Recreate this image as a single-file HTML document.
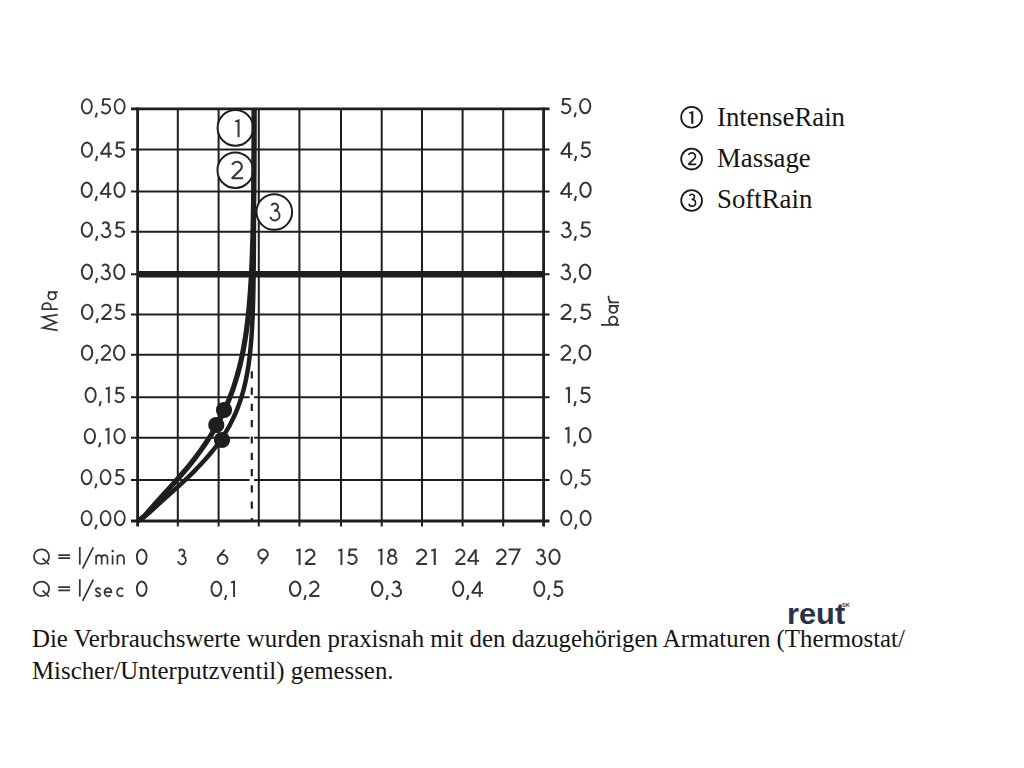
<!DOCTYPE html><html><head><meta charset="utf-8"><style>html,body{margin:0;padding:0;background:#fff;width:1024px;height:768px;overflow:hidden}svg{position:absolute;left:0;top:0}</style></head><body>
<svg width="1024" height="768" viewBox="0 0 1024 768">
<line x1="177.8" y1="108.9" x2="177.8" y2="526.4" stroke="#1e1e21" stroke-width="2"/><line x1="218.6" y1="108.9" x2="218.6" y2="526.4" stroke="#1e1e21" stroke-width="2"/><line x1="258.8" y1="108.9" x2="258.8" y2="526.4" stroke="#1e1e21" stroke-width="2"/><line x1="299.4" y1="108.9" x2="299.4" y2="526.4" stroke="#1e1e21" stroke-width="2"/><line x1="341.0" y1="108.9" x2="341.0" y2="526.4" stroke="#1e1e21" stroke-width="2"/><line x1="381.7" y1="108.9" x2="381.7" y2="526.4" stroke="#1e1e21" stroke-width="2"/><line x1="422.0" y1="108.9" x2="422.0" y2="526.4" stroke="#1e1e21" stroke-width="2"/><line x1="462.6" y1="108.9" x2="462.6" y2="526.4" stroke="#1e1e21" stroke-width="2"/><line x1="503.2" y1="108.9" x2="503.2" y2="526.4" stroke="#1e1e21" stroke-width="2"/><line x1="131" y1="149.6" x2="549.5" y2="149.6" stroke="#1e1e21" stroke-width="2"/><line x1="131" y1="191.4" x2="549.5" y2="191.4" stroke="#1e1e21" stroke-width="2"/><line x1="131" y1="231.8" x2="549.5" y2="231.8" stroke="#1e1e21" stroke-width="2"/><line x1="131" y1="274.3" x2="549.5" y2="274.3" stroke="#1e1e21" stroke-width="2"/><line x1="131" y1="314.4" x2="549.5" y2="314.4" stroke="#1e1e21" stroke-width="2"/><line x1="131" y1="354.8" x2="549.5" y2="354.8" stroke="#1e1e21" stroke-width="2"/><line x1="131" y1="397.3" x2="549.5" y2="397.3" stroke="#1e1e21" stroke-width="2"/><line x1="131" y1="437.8" x2="549.5" y2="437.8" stroke="#1e1e21" stroke-width="2"/><line x1="131" y1="479.9" x2="549.5" y2="479.9" stroke="#1e1e21" stroke-width="2"/><line x1="137.6" y1="274.3" x2="543.6" y2="274.3" stroke="#1e1e21" stroke-width="6.6"/>
<line x1="137.6" y1="107.60000000000001" x2="137.6" y2="526.4" stroke="#1e1e21" stroke-width="2.8"/>
<line x1="543.6" y1="107.60000000000001" x2="543.6" y2="526.4" stroke="#1e1e21" stroke-width="2.8"/>
<line x1="131" y1="108.9" x2="549.5" y2="108.9" stroke="#1e1e21" stroke-width="2.7"/>
<line x1="131" y1="520.9" x2="549.5" y2="520.9" stroke="#1e1e21" stroke-width="3"/>
<line x1="251.8" y1="373" x2="251.8" y2="517.5" stroke="#fff" stroke-width="4.5"/>
<line x1="251.8" y1="371.2" x2="251.8" y2="521" stroke="#1e1e21" stroke-width="2.2" stroke-dasharray="7.2 9.1"/>
<circle cx="235.4" cy="127.9" r="17.8" fill="#fff" stroke="#1e1e21" stroke-width="2"/>
<g transform="translate(232.00,119.40) scale(1.1020,1.0920)" fill="none" stroke="#363638" stroke-width="1.831" stroke-linecap="butt" stroke-linejoin="miter" stroke-miterlimit="2"><path transform="translate(2.00,0)" d="M0.95,2.0 L3.95,0.95 V16.3"/></g>
<circle cx="235.3" cy="170.2" r="17.8" fill="#fff" stroke="#1e1e21" stroke-width="2"/>
<g transform="translate(229.84,160.70) scale(1.1961,1.1472)" fill="none" stroke="#363638" stroke-width="1.743" stroke-linecap="butt" stroke-linejoin="miter" stroke-miterlimit="2"><path transform="translate(0.80,0)" d="M1.20,3.68 A4.15,4.15 0 1 1 8.37,7.65 L0.95,15.35 H10.2"/></g>
<circle cx="274.3" cy="212" r="17.8" fill="#fff" stroke="#1e1e21" stroke-width="2"/>
<g transform="translate(267.90,202.40) scale(1.0962,1.1411)" fill="none" stroke="#363638" stroke-width="1.753" stroke-linecap="butt" stroke-linejoin="miter" stroke-miterlimit="2"><path transform="translate(1.00,0)" d="M2.15,2.77 A3.15,3.15 0 1 1 4.73,7.24 A4.30,4.30 0 1 1 1.16,12.66"/></g>
<path d="M137.80,520.80 L139.68,519.80 L141.34,518.80 L142.85,517.80 L144.24,516.80 L145.53,515.80 L146.75,514.80 L147.93,513.80 L149.07,512.80 L150.18,511.80 L151.28,510.80 L152.37,509.80 L153.45,508.80 L154.54,507.80 L155.62,506.80 L156.71,505.80 L157.79,504.80 L158.89,503.80 L159.98,502.80 L161.09,501.80 L162.19,500.80 L163.30,499.80 L164.41,498.80 L165.52,497.80 L166.64,496.80 L167.75,495.80 L168.87,494.80 L169.99,493.80 L171.10,492.80 L172.22,491.80 L173.33,490.80 L174.44,489.80 L175.55,488.80 L176.65,487.80 L177.75,486.80 L178.85,485.80 L179.94,484.80 L181.03,483.80 L182.11,482.80 L183.19,481.80 L184.26,480.80 L185.32,479.80 L186.38,478.80 L187.43,477.80 L188.47,476.80 L189.51,475.80 L190.54,474.80 L191.56,473.80 L192.58,472.80 L193.58,471.80 L194.58,470.80 L195.57,469.80 L196.55,468.80 L197.52,467.80 L198.48,466.80 L199.44,465.80 L200.38,464.80 L201.32,463.80 L202.24,462.80 L203.16,461.80 L204.06,460.80 L205.85,458.80 L207.59,456.80 L209.30,454.80 L210.96,452.80 L212.58,450.80 L214.16,448.80 L215.70,446.80 L217.20,444.80 L218.66,442.80 L220.07,440.80 L221.44,438.80 L222.77,436.80 L224.07,434.80 L225.31,432.80 L226.52,430.80 L227.69,428.80 L228.82,426.80 L229.92,424.80 L230.97,422.80 L231.98,420.80 L232.96,418.80 L233.91,416.80 L234.82,414.80 L235.69,412.80 L236.53,410.80 L237.34,408.80 L238.11,406.80 L238.86,404.80 L239.57,402.80 L240.26,400.80 L240.91,398.80 L241.54,396.80 L242.14,394.80 L242.72,392.80 L243.27,390.80 L243.80,388.80 L244.31,386.80 L244.79,384.80 L245.25,382.80 L245.69,380.80 L246.11,378.80 L246.51,376.80 L246.89,374.80 L247.25,372.80 L247.60,370.80 L247.93,368.80 L248.25,366.80 L248.55,364.80 L248.83,362.80 L249.10,360.80 L249.36,358.80 L249.61,356.80 L249.84,354.80 L250.06,352.80 L250.27,350.80 L250.47,348.80 L250.66,346.80 L250.85,344.80 L251.02,342.80 L251.18,340.80 L251.33,338.80 L251.48,336.80 L251.62,334.80 L251.75,332.80 L251.88,330.80 L252.00,328.80 L252.11,326.80 L252.22,324.80 L252.32,322.80 L252.41,320.80 L252.50,318.80 L252.59,316.80 L252.67,314.80 L252.75,312.80 L252.82,310.80 L252.89,308.80 L252.95,306.80 L253.01,304.80 L253.07,302.80 L253.13,300.80 L253.32,292.80 L253.47,284.80 L253.59,276.80 L253.69,268.80 L253.77,260.80 L253.83,252.80 L253.88,244.80 L253.91,236.80 L253.94,228.80 L253.97,220.80 L253.99,212.80 L254.00,204.80 L254.01,196.80 L254.02,188.80 L254.03,180.80 L254.03,172.80 L254.04,164.80 L254.04,156.80 L254.04,148.80 L254.04,140.80 L254.04,132.80 L254.05,124.80 L254.05,116.80 L254.05,108.90" fill="none" stroke="#1e1e21" stroke-width="4.5" stroke-linecap="butt" stroke-linejoin="round"/>
<path d="M137.80,520.80 L139.46,519.80 L140.92,518.80 L142.22,517.80 L143.39,516.80 L144.47,515.80 L145.49,514.80 L146.45,513.80 L147.38,512.80 L148.28,511.80 L149.17,510.80 L150.04,509.80 L150.92,508.80 L151.79,507.80 L152.66,506.80 L153.53,505.80 L154.41,504.80 L155.29,503.80 L156.18,502.80 L157.07,501.80 L157.97,500.80 L158.87,499.80 L159.77,498.80 L160.68,497.80 L161.58,496.80 L162.50,495.80 L163.41,494.80 L164.32,493.80 L165.23,492.80 L166.15,491.80 L167.06,490.80 L167.97,489.80 L168.89,488.80 L169.79,487.80 L170.70,486.80 L171.61,485.80 L172.51,484.80 L173.41,483.80 L174.31,482.80 L175.20,481.80 L176.09,480.80 L176.98,479.80 L177.86,478.80 L178.73,477.80 L179.61,476.80 L180.48,475.80 L181.34,474.80 L182.20,473.80 L183.05,472.80 L183.90,471.80 L184.75,470.80 L185.59,469.80 L186.42,468.80 L187.25,467.80 L188.07,466.80 L188.89,465.80 L189.70,464.80 L190.51,463.80 L191.31,462.80 L192.10,461.80 L192.89,460.80 L194.45,458.80 L195.98,456.80 L197.49,454.80 L198.97,452.80 L200.43,450.80 L201.86,448.80 L203.27,446.80 L204.65,444.80 L206.00,442.80 L207.33,440.80 L208.63,438.80 L209.91,436.80 L211.16,434.80 L212.38,432.80 L213.58,430.80 L214.75,428.80 L215.89,426.80 L217.01,424.80 L218.10,422.80 L219.17,420.80 L220.22,418.80 L221.23,416.80 L222.23,414.80 L223.20,412.80 L224.14,410.80 L225.06,408.80 L225.96,406.80 L226.83,404.80 L227.68,402.80 L228.51,400.80 L229.32,398.80 L230.10,396.80 L230.87,394.80 L231.61,392.80 L232.33,390.80 L233.04,388.80 L233.72,386.80 L234.38,384.80 L235.02,382.80 L235.65,380.80 L236.26,378.80 L236.85,376.80 L237.42,374.80 L237.97,372.80 L238.51,370.80 L239.03,368.80 L239.54,366.80 L240.03,364.80 L240.51,362.80 L240.97,360.80 L241.42,358.80 L241.85,356.80 L242.27,354.80 L242.68,352.80 L243.07,350.80 L243.45,348.80 L243.82,346.80 L244.18,344.80 L244.52,342.80 L244.86,340.80 L245.18,338.80 L245.50,336.80 L245.80,334.80 L246.09,332.80 L246.38,330.80 L246.65,328.80 L246.92,326.80 L247.17,324.80 L247.42,322.80 L247.66,320.80 L247.89,318.80 L248.12,316.80 L248.33,314.80 L248.54,312.80 L248.74,310.80 L248.94,308.80 L249.13,306.80 L249.31,304.80 L249.49,302.80 L249.66,300.80 L250.28,292.80 L250.82,284.80 L251.29,276.80 L251.70,268.80 L252.06,260.80 L252.36,252.80 L252.63,244.80 L252.86,236.80 L253.06,228.80 L253.23,220.80 L253.38,212.80 L253.50,204.80 L253.61,196.80 L253.71,188.80 L253.79,180.80 L253.86,172.80 L253.92,164.80 L253.98,156.80 L254.02,148.80 L254.06,140.80 L254.09,132.80 L254.12,124.80 L254.15,116.80 L254.17,108.90" fill="none" stroke="#1e1e21" stroke-width="5.2" stroke-linecap="butt" stroke-linejoin="round"/>
<circle cx="224" cy="410" r="8.1" fill="#1e1e21"/>
<circle cx="216.3" cy="425" r="8.1" fill="#1e1e21"/>
<circle cx="222" cy="440" r="8.1" fill="#1e1e21"/>
<g transform="translate(79.69,98.20) scale(1.0090,1.0000)" fill="none" stroke="#363638" stroke-width="1.900" stroke-linecap="butt" stroke-linejoin="miter" stroke-miterlimit="2"><path transform="translate(1.20,0)" d="M5.9,0.95 A4.95,7.2 0 1 1 5.9,15.35 A4.95,7.2 0 1 1 5.9,0.95Z"/><path transform="translate(15.00,0)" d="M2.1,14.5 L0.75,19.4"/><path transform="translate(20.20,0)" d="M10.3,0.95 H3.2 L2.52,7.13 A4.60,4.60 0 1 1 1.37,13.05"/><path transform="translate(33.70,0)" d="M5.9,0.95 A4.95,7.2 0 1 1 5.9,15.35 A4.95,7.2 0 1 1 5.9,0.95Z"/></g>
<g transform="translate(79.67,141.50) scale(1.0255,1.0000)" fill="none" stroke="#363638" stroke-width="1.900" stroke-linecap="butt" stroke-linejoin="miter" stroke-miterlimit="2"><path transform="translate(1.20,0)" d="M5.9,0.95 A4.95,7.2 0 1 1 5.9,15.35 A4.95,7.2 0 1 1 5.9,0.95Z"/><path transform="translate(15.00,0)" d="M2.1,14.5 L0.75,19.4"/><path transform="translate(19.60,0)" d="M8.6,16.3 V0.95 L0.95,12.3 H11.8"/><path transform="translate(33.40,0)" d="M10.3,0.95 H3.2 L2.52,7.13 A4.60,4.60 0 1 1 1.37,13.05"/></g>
<g transform="translate(79.48,181.60) scale(1.0182,1.0000)" fill="none" stroke="#363638" stroke-width="1.900" stroke-linecap="butt" stroke-linejoin="miter" stroke-miterlimit="2"><path transform="translate(1.20,0)" d="M5.9,0.95 A4.95,7.2 0 1 1 5.9,15.35 A4.95,7.2 0 1 1 5.9,0.95Z"/><path transform="translate(15.00,0)" d="M2.1,14.5 L0.75,19.4"/><path transform="translate(19.60,0)" d="M8.6,16.3 V0.95 L0.95,12.3 H11.8"/><path transform="translate(33.40,0)" d="M5.9,0.95 A4.95,7.2 0 1 1 5.9,15.35 A4.95,7.2 0 1 1 5.9,0.95Z"/></g>
<g transform="translate(79.45,221.40) scale(1.0447,1.0000)" fill="none" stroke="#363638" stroke-width="1.900" stroke-linecap="butt" stroke-linejoin="miter" stroke-miterlimit="2"><path transform="translate(1.20,0)" d="M5.9,0.95 A4.95,7.2 0 1 1 5.9,15.35 A4.95,7.2 0 1 1 5.9,0.95Z"/><path transform="translate(15.00,0)" d="M2.1,14.5 L0.75,19.4"/><path transform="translate(20.00,0)" d="M2.15,2.77 A3.15,3.15 0 1 1 4.73,7.24 A4.30,4.30 0 1 1 1.16,12.66"/><path transform="translate(32.80,0)" d="M10.3,0.95 H3.2 L2.52,7.13 A4.60,4.60 0 1 1 1.37,13.05"/></g>
<g transform="translate(79.67,263.60) scale(1.0230,1.0000)" fill="none" stroke="#363638" stroke-width="1.900" stroke-linecap="butt" stroke-linejoin="miter" stroke-miterlimit="2"><path transform="translate(1.20,0)" d="M5.9,0.95 A4.95,7.2 0 1 1 5.9,15.35 A4.95,7.2 0 1 1 5.9,0.95Z"/><path transform="translate(15.00,0)" d="M2.1,14.5 L0.75,19.4"/><path transform="translate(20.00,0)" d="M2.15,2.77 A3.15,3.15 0 1 1 4.73,7.24 A4.30,4.30 0 1 1 1.16,12.66"/><path transform="translate(32.80,0)" d="M5.9,0.95 A4.95,7.2 0 1 1 5.9,15.35 A4.95,7.2 0 1 1 5.9,0.95Z"/></g>
<g transform="translate(79.62,303.70) scale(1.0647,1.0000)" fill="none" stroke="#363638" stroke-width="1.900" stroke-linecap="butt" stroke-linejoin="miter" stroke-miterlimit="2"><path transform="translate(1.20,0)" d="M5.9,0.95 A4.95,7.2 0 1 1 5.9,15.35 A4.95,7.2 0 1 1 5.9,0.95Z"/><path transform="translate(15.00,0)" d="M2.1,14.5 L0.75,19.4"/><path transform="translate(19.80,0)" d="M1.20,3.68 A4.15,4.15 0 1 1 8.37,7.65 L0.95,15.35 H10.2"/><path transform="translate(32.00,0)" d="M10.3,0.95 H3.2 L2.52,7.13 A4.60,4.60 0 1 1 1.37,13.05"/></g>
<g transform="translate(79.65,344.50) scale(1.0423,1.0000)" fill="none" stroke="#363638" stroke-width="1.900" stroke-linecap="butt" stroke-linejoin="miter" stroke-miterlimit="2"><path transform="translate(1.20,0)" d="M5.9,0.95 A4.95,7.2 0 1 1 5.9,15.35 A4.95,7.2 0 1 1 5.9,0.95Z"/><path transform="translate(15.00,0)" d="M2.1,14.5 L0.75,19.4"/><path transform="translate(19.80,0)" d="M1.20,3.68 A4.15,4.15 0 1 1 8.37,7.65 L0.95,15.35 H10.2"/><path transform="translate(32.00,0)" d="M5.9,0.95 A4.95,7.2 0 1 1 5.9,15.35 A4.95,7.2 0 1 1 5.9,0.95Z"/></g>
<g transform="translate(83.38,386.80) scale(1.0204,1.0000)" fill="none" stroke="#363638" stroke-width="1.900" stroke-linecap="butt" stroke-linejoin="miter" stroke-miterlimit="2"><path transform="translate(1.20,0)" d="M5.9,0.95 A4.95,7.2 0 1 1 5.9,15.35 A4.95,7.2 0 1 1 5.9,0.95Z"/><path transform="translate(15.00,0)" d="M2.1,14.5 L0.75,19.4"/><path transform="translate(21.00,0)" d="M0.95,2.0 L3.95,0.95 V16.3"/><path transform="translate(29.60,0)" d="M10.3,0.95 H3.2 L2.52,7.13 A4.60,4.60 0 1 1 1.37,13.05"/></g>
<g transform="translate(82.45,427.90) scale(1.0448,1.0000)" fill="none" stroke="#363638" stroke-width="1.900" stroke-linecap="butt" stroke-linejoin="miter" stroke-miterlimit="2"><path transform="translate(1.20,0)" d="M5.9,0.95 A4.95,7.2 0 1 1 5.9,15.35 A4.95,7.2 0 1 1 5.9,0.95Z"/><path transform="translate(15.00,0)" d="M2.1,14.5 L0.75,19.4"/><path transform="translate(21.00,0)" d="M0.95,2.0 L3.95,0.95 V16.3"/><path transform="translate(29.60,0)" d="M5.9,0.95 A4.95,7.2 0 1 1 5.9,15.35 A4.95,7.2 0 1 1 5.9,0.95Z"/></g>
<g transform="translate(79.50,468.90) scale(0.9977,1.0000)" fill="none" stroke="#363638" stroke-width="1.900" stroke-linecap="butt" stroke-linejoin="miter" stroke-miterlimit="2"><path transform="translate(1.20,0)" d="M5.9,0.95 A4.95,7.2 0 1 1 5.9,15.35 A4.95,7.2 0 1 1 5.9,0.95Z"/><path transform="translate(15.00,0)" d="M2.1,14.5 L0.75,19.4"/><path transform="translate(20.20,0)" d="M5.9,0.95 A4.95,7.2 0 1 1 5.9,15.35 A4.95,7.2 0 1 1 5.9,0.95Z"/><path transform="translate(34.40,0)" d="M10.3,0.95 H3.2 L2.52,7.13 A4.60,4.60 0 1 1 1.37,13.05"/></g>
<g transform="translate(79.50,509.90) scale(1.0000,1.0000)" fill="none" stroke="#363638" stroke-width="1.900" stroke-linecap="butt" stroke-linejoin="miter" stroke-miterlimit="2"><path transform="translate(1.20,0)" d="M5.9,0.95 A4.95,7.2 0 1 1 5.9,15.35 A4.95,7.2 0 1 1 5.9,0.95Z"/><path transform="translate(15.00,0)" d="M2.1,14.5 L0.75,19.4"/><path transform="translate(20.20,0)" d="M5.9,0.95 A4.95,7.2 0 1 1 5.9,15.35 A4.95,7.2 0 1 1 5.9,0.95Z"/><path transform="translate(34.40,0)" d="M5.9,0.95 A4.95,7.2 0 1 1 5.9,15.35 A4.95,7.2 0 1 1 5.9,0.95Z"/></g>
<g transform="translate(558.75,97.90) scale(1.0399,1.0000)" fill="none" stroke="#363638" stroke-width="1.900" stroke-linecap="butt" stroke-linejoin="miter" stroke-miterlimit="2"><path transform="translate(1.20,0)" d="M10.3,0.95 H3.2 L2.52,7.13 A4.60,4.60 0 1 1 1.37,13.05"/><path transform="translate(14.30,0)" d="M2.1,14.5 L0.75,19.4"/><path transform="translate(19.50,0)" d="M5.9,0.95 A4.95,7.2 0 1 1 5.9,15.35 A4.95,7.2 0 1 1 5.9,0.95Z"/></g>
<g transform="translate(559.37,141.60) scale(1.0508,1.0000)" fill="none" stroke="#363638" stroke-width="1.900" stroke-linecap="butt" stroke-linejoin="miter" stroke-miterlimit="2"><path transform="translate(0.60,0)" d="M8.6,16.3 V0.95 L0.95,12.3 H11.8"/><path transform="translate(14.00,0)" d="M2.1,14.5 L0.75,19.4"/><path transform="translate(19.20,0)" d="M10.3,0.95 H3.2 L2.52,7.13 A4.60,4.60 0 1 1 1.37,13.05"/></g>
<g transform="translate(559.17,181.60) scale(1.0493,1.0000)" fill="none" stroke="#363638" stroke-width="1.900" stroke-linecap="butt" stroke-linejoin="miter" stroke-miterlimit="2"><path transform="translate(0.60,0)" d="M8.6,16.3 V0.95 L0.95,12.3 H11.8"/><path transform="translate(14.00,0)" d="M2.1,14.5 L0.75,19.4"/><path transform="translate(19.20,0)" d="M5.9,0.95 A4.95,7.2 0 1 1 5.9,15.35 A4.95,7.2 0 1 1 5.9,0.95Z"/></g>
<g transform="translate(559.33,221.40) scale(1.0737,1.0000)" fill="none" stroke="#363638" stroke-width="1.900" stroke-linecap="butt" stroke-linejoin="miter" stroke-miterlimit="2"><path transform="translate(1.00,0)" d="M2.15,2.77 A3.15,3.15 0 1 1 4.73,7.24 A4.30,4.30 0 1 1 1.16,12.66"/><path transform="translate(13.40,0)" d="M2.1,14.5 L0.75,19.4"/><path transform="translate(18.60,0)" d="M10.3,0.95 H3.2 L2.52,7.13 A4.60,4.60 0 1 1 1.37,13.05"/></g>
<g transform="translate(558.94,263.60) scale(1.0646,1.0000)" fill="none" stroke="#363638" stroke-width="1.900" stroke-linecap="butt" stroke-linejoin="miter" stroke-miterlimit="2"><path transform="translate(1.00,0)" d="M2.15,2.77 A3.15,3.15 0 1 1 4.73,7.24 A4.30,4.30 0 1 1 1.16,12.66"/><path transform="translate(13.40,0)" d="M2.1,14.5 L0.75,19.4"/><path transform="translate(18.60,0)" d="M5.9,0.95 A4.95,7.2 0 1 1 5.9,15.35 A4.95,7.2 0 1 1 5.9,0.95Z"/></g>
<g transform="translate(559.10,303.70) scale(1.1219,1.0000)" fill="none" stroke="#363638" stroke-width="1.900" stroke-linecap="butt" stroke-linejoin="miter" stroke-miterlimit="2"><path transform="translate(0.80,0)" d="M1.20,3.68 A4.15,4.15 0 1 1 8.37,7.65 L0.95,15.35 H10.2"/><path transform="translate(12.60,0)" d="M2.1,14.5 L0.75,19.4"/><path transform="translate(17.80,0)" d="M10.3,0.95 H3.2 L2.52,7.13 A4.60,4.60 0 1 1 1.37,13.05"/></g>
<g transform="translate(559.13,344.50) scale(1.0868,1.0000)" fill="none" stroke="#363638" stroke-width="1.900" stroke-linecap="butt" stroke-linejoin="miter" stroke-miterlimit="2"><path transform="translate(0.80,0)" d="M1.20,3.68 A4.15,4.15 0 1 1 8.37,7.65 L0.95,15.35 H10.2"/><path transform="translate(12.60,0)" d="M2.1,14.5 L0.75,19.4"/><path transform="translate(17.80,0)" d="M5.9,0.95 A4.95,7.2 0 1 1 5.9,15.35 A4.95,7.2 0 1 1 5.9,0.95Z"/></g>
<g transform="translate(562.56,386.80) scale(1.0700,1.0000)" fill="none" stroke="#363638" stroke-width="1.900" stroke-linecap="butt" stroke-linejoin="miter" stroke-miterlimit="2"><path transform="translate(2.00,0)" d="M0.95,2.0 L3.95,0.95 V16.3"/><path transform="translate(10.20,0)" d="M2.1,14.5 L0.75,19.4"/><path transform="translate(15.40,0)" d="M10.3,0.95 H3.2 L2.52,7.13 A4.60,4.60 0 1 1 1.37,13.05"/></g>
<g transform="translate(562.03,427.00) scale(1.0873,1.0000)" fill="none" stroke="#363638" stroke-width="1.900" stroke-linecap="butt" stroke-linejoin="miter" stroke-miterlimit="2"><path transform="translate(2.00,0)" d="M0.95,2.0 L3.95,0.95 V16.3"/><path transform="translate(10.20,0)" d="M2.1,14.5 L0.75,19.4"/><path transform="translate(15.40,0)" d="M5.9,0.95 A4.95,7.2 0 1 1 5.9,15.35 A4.95,7.2 0 1 1 5.9,0.95Z"/></g>
<g transform="translate(559.08,469.20) scale(1.0201,1.0000)" fill="none" stroke="#363638" stroke-width="1.900" stroke-linecap="butt" stroke-linejoin="miter" stroke-miterlimit="2"><path transform="translate(1.20,0)" d="M5.9,0.95 A4.95,7.2 0 1 1 5.9,15.35 A4.95,7.2 0 1 1 5.9,0.95Z"/><path transform="translate(15.00,0)" d="M2.1,14.5 L0.75,19.4"/><path transform="translate(20.20,0)" d="M10.3,0.95 H3.2 L2.52,7.13 A4.60,4.60 0 1 1 1.37,13.05"/></g>
<g transform="translate(559.08,509.80) scale(1.0162,1.0000)" fill="none" stroke="#363638" stroke-width="1.900" stroke-linecap="butt" stroke-linejoin="miter" stroke-miterlimit="2"><path transform="translate(1.20,0)" d="M5.9,0.95 A4.95,7.2 0 1 1 5.9,15.35 A4.95,7.2 0 1 1 5.9,0.95Z"/><path transform="translate(15.00,0)" d="M2.1,14.5 L0.75,19.4"/><path transform="translate(20.20,0)" d="M5.9,0.95 A4.95,7.2 0 1 1 5.9,15.35 A4.95,7.2 0 1 1 5.9,0.95Z"/></g>
<g transform="translate(134.72,548.60) scale(0.9831,1.0000)" fill="none" stroke="#363638" stroke-width="1.900" stroke-linecap="butt" stroke-linejoin="miter" stroke-miterlimit="2"><path transform="translate(1.20,0)" d="M5.9,0.95 A4.95,7.2 0 1 1 5.9,15.35 A4.95,7.2 0 1 1 5.9,0.95Z"/></g>
<g transform="translate(175.97,548.60) scale(0.9327,1.0000)" fill="none" stroke="#363638" stroke-width="1.900" stroke-linecap="butt" stroke-linejoin="miter" stroke-miterlimit="2"><path transform="translate(1.00,0)" d="M2.15,2.77 A3.15,3.15 0 1 1 4.73,7.24 A4.30,4.30 0 1 1 1.16,12.66"/></g>
<g transform="translate(215.66,548.60) scale(1.0446,1.0000)" fill="none" stroke="#363638" stroke-width="1.900" stroke-linecap="butt" stroke-linejoin="miter" stroke-miterlimit="2"><path transform="translate(1.00,0)" d="M5.6,6.05 A4.65,4.65 0 1 1 5.6,15.35 A4.65,4.65 0 1 1 5.6,6.05Z M1.39,8.73 L7.6,0.95"/></g>
<g transform="translate(256.28,548.60) scale(1.0223,1.0000)" fill="none" stroke="#363638" stroke-width="1.900" stroke-linecap="butt" stroke-linejoin="miter" stroke-miterlimit="2"><path transform="translate(1.00,0)" d="M5.6,0.95 A4.65,4.65 0 1 1 5.6,10.25 A4.65,4.65 0 1 1 5.6,0.95Z M9.81,7.57 L3.6,15.35"/></g>
<g transform="translate(292.99,548.60) scale(1.1033,1.0000)" fill="none" stroke="#363638" stroke-width="1.900" stroke-linecap="butt" stroke-linejoin="miter" stroke-miterlimit="2"><path transform="translate(2.00,0)" d="M0.95,2.0 L3.95,0.95 V16.3"/><path transform="translate(10.20,0)" d="M1.20,3.68 A4.15,4.15 0 1 1 8.37,7.65 L0.95,15.35 H10.2"/></g>
<g transform="translate(335.21,548.60) scale(1.0462,1.0000)" fill="none" stroke="#363638" stroke-width="1.900" stroke-linecap="butt" stroke-linejoin="miter" stroke-miterlimit="2"><path transform="translate(2.00,0)" d="M0.95,2.0 L3.95,0.95 V16.3"/><path transform="translate(10.60,0)" d="M10.3,0.95 H3.2 L2.52,7.13 A4.60,4.60 0 1 1 1.37,13.05"/></g>
<g transform="translate(375.05,548.60) scale(1.0741,1.0000)" fill="none" stroke="#363638" stroke-width="1.900" stroke-linecap="butt" stroke-linejoin="miter" stroke-miterlimit="2"><path transform="translate(2.00,0)" d="M0.95,2.0 L3.95,0.95 V16.3"/><path transform="translate(11.00,0)" d="M4.95,0.95 A3.15,3.15 0 1 1 4.95,7.25 A3.15,3.15 0 1 1 4.95,0.95Z M4.95,7.3 A4.0,4.0 0 1 1 4.95,15.3 A4.0,4.0 0 1 1 4.95,7.3Z"/></g>
<g transform="translate(414.59,548.60) scale(1.1341,1.0000)" fill="none" stroke="#363638" stroke-width="1.900" stroke-linecap="butt" stroke-linejoin="miter" stroke-miterlimit="2"><path transform="translate(0.80,0)" d="M1.20,3.68 A4.15,4.15 0 1 1 8.37,7.65 L0.95,15.35 H10.2"/><path transform="translate(13.80,0)" d="M0.95,2.0 L3.95,0.95 V16.3"/></g>
<g transform="translate(453.97,548.60) scale(1.0385,1.0000)" fill="none" stroke="#363638" stroke-width="1.900" stroke-linecap="butt" stroke-linejoin="miter" stroke-miterlimit="2"><path transform="translate(0.80,0)" d="M1.20,3.68 A4.15,4.15 0 1 1 8.37,7.65 L0.95,15.35 H10.2"/><path transform="translate(12.40,0)" d="M8.6,16.3 V0.95 L0.95,12.3 H11.8"/></g>
<g transform="translate(494.63,548.60) scale(1.0901,1.0000)" fill="none" stroke="#363638" stroke-width="1.900" stroke-linecap="butt" stroke-linejoin="miter" stroke-miterlimit="2"><path transform="translate(0.80,0)" d="M1.20,3.68 A4.15,4.15 0 1 1 8.37,7.65 L0.95,15.35 H10.2"/><path transform="translate(12.80,0)" d="M0,0.95 H10.0 L3.2,16.3"/></g>
<g transform="translate(534.27,548.60) scale(1.0285,1.0000)" fill="none" stroke="#363638" stroke-width="1.900" stroke-linecap="butt" stroke-linejoin="miter" stroke-miterlimit="2"><path transform="translate(1.00,0)" d="M2.15,2.77 A3.15,3.15 0 1 1 4.73,7.24 A4.30,4.30 0 1 1 1.16,12.66"/><path transform="translate(13.80,0)" d="M5.9,0.95 A4.95,7.2 0 1 1 5.9,15.35 A4.95,7.2 0 1 1 5.9,0.95Z"/></g>
<g transform="translate(134.72,580.60) scale(0.9831,1.0000)" fill="none" stroke="#363638" stroke-width="1.900" stroke-linecap="butt" stroke-linejoin="miter" stroke-miterlimit="2"><path transform="translate(1.20,0)" d="M5.9,0.95 A4.95,7.2 0 1 1 5.9,15.35 A4.95,7.2 0 1 1 5.9,0.95Z"/></g>
<g transform="translate(209.31,580.60) scale(0.9919,1.0000)" fill="none" stroke="#363638" stroke-width="1.900" stroke-linecap="butt" stroke-linejoin="miter" stroke-miterlimit="2"><path transform="translate(1.20,0)" d="M5.9,0.95 A4.95,7.2 0 1 1 5.9,15.35 A4.95,7.2 0 1 1 5.9,0.95Z"/><path transform="translate(15.00,0)" d="M2.1,14.5 L0.75,19.4"/><path transform="translate(21.00,0)" d="M0.95,2.0 L3.95,0.95 V16.3"/></g>
<g transform="translate(287.63,580.60) scale(1.0590,1.0000)" fill="none" stroke="#363638" stroke-width="1.900" stroke-linecap="butt" stroke-linejoin="miter" stroke-miterlimit="2"><path transform="translate(1.20,0)" d="M5.9,0.95 A4.95,7.2 0 1 1 5.9,15.35 A4.95,7.2 0 1 1 5.9,0.95Z"/><path transform="translate(15.00,0)" d="M2.1,14.5 L0.75,19.4"/><path transform="translate(19.80,0)" d="M1.20,3.68 A4.15,4.15 0 1 1 8.37,7.65 L0.95,15.35 H10.2"/></g>
<g transform="translate(369.63,580.60) scale(1.0616,1.0000)" fill="none" stroke="#363638" stroke-width="1.900" stroke-linecap="butt" stroke-linejoin="miter" stroke-miterlimit="2"><path transform="translate(1.20,0)" d="M5.9,0.95 A4.95,7.2 0 1 1 5.9,15.35 A4.95,7.2 0 1 1 5.9,0.95Z"/><path transform="translate(15.00,0)" d="M2.1,14.5 L0.75,19.4"/><path transform="translate(20.00,0)" d="M2.15,2.77 A3.15,3.15 0 1 1 4.73,7.24 A4.30,4.30 0 1 1 1.16,12.66"/></g>
<g transform="translate(450.98,580.60) scale(1.0199,1.0000)" fill="none" stroke="#363638" stroke-width="1.900" stroke-linecap="butt" stroke-linejoin="miter" stroke-miterlimit="2"><path transform="translate(1.20,0)" d="M5.9,0.95 A4.95,7.2 0 1 1 5.9,15.35 A4.95,7.2 0 1 1 5.9,0.95Z"/><path transform="translate(15.00,0)" d="M2.1,14.5 L0.75,19.4"/><path transform="translate(19.60,0)" d="M8.6,16.3 V0.95 L0.95,12.3 H11.8"/></g>
<g transform="translate(532.20,580.60) scale(1.0033,1.0000)" fill="none" stroke="#363638" stroke-width="1.900" stroke-linecap="butt" stroke-linejoin="miter" stroke-miterlimit="2"><path transform="translate(1.20,0)" d="M5.9,0.95 A4.95,7.2 0 1 1 5.9,15.35 A4.95,7.2 0 1 1 5.9,0.95Z"/><path transform="translate(15.00,0)" d="M2.1,14.5 L0.75,19.4"/><path transform="translate(20.20,0)" d="M10.3,0.95 H3.2 L2.52,7.13 A4.60,4.60 0 1 1 1.37,13.05"/></g>
<path transform="translate(57.75,331.6) rotate(-90)" d="M1.3,0 L3.8,-14.9 L9.2,-1.6 L14.5,-14.9 L17.0,0 M22.4,0 V-15.4 H24.9 A3.7,4.2 0 0 1 24.9,-7.0 H22.4 M35.8,-9.5 A3.7,3.85 0 1 0 35.8,-1.8 A3.7,3.85 0 1 0 35.8,-9.5 Z M39.6,-9.9 V0" fill="none" stroke="#363638" stroke-width="1.75" stroke-linejoin="miter" stroke-miterlimit="6"/>
<path transform="translate(619.0,325.7) rotate(-90)" d="M0.9,0 V-18 M5.0,-10.0 A4.1,4.15 0 1 0 5.0,-1.7 A4.1,4.15 0 1 0 5.0,-10.0 Z M0.9,-5.8 A4.1,4.15 0 0 1 5.0,-10.0 M16.3,-9.6 A3.5,3.9 0 1 0 16.3,-1.8 A3.5,3.9 0 1 0 16.3,-9.6 Z M19.8,-10.2 V0 M23.3,0 V-10.2 M23.3,-6.0 C23.3,-8.8 25.2,-10.4 28.3,-10.4 H30.0" fill="none" stroke="#363638" stroke-width="1.75" stroke-linejoin="miter"/>
<path d="M41.5,549.30 A7.6,7.3 0 1 1 41.5,563.90 A7.6,7.3 0 1 1 41.5,549.30 Z M42.5,558.40 L49.0,564.40 M58.3,555.00 H70 M58.3,558.20 H70 M79.8,547.10 V564.40 M93.3,547.40 L82.6,568.60" fill="none" stroke="#363638" stroke-width="1.75"/>
<path d="M41.5,581.50 A7.6,7.3 0 1 1 41.5,596.10 A7.6,7.3 0 1 1 41.5,581.50 Z M42.5,590.60 L49.0,596.60 M58.3,587.20 H70 M58.3,590.40 H70 M79.8,579.30 V596.60 M93.3,579.60 L82.6,600.80" fill="none" stroke="#363638" stroke-width="1.75"/>
<path d="M96.1,564.6 V555.2 M96.1,558.8 C96.1,556.3 97.2,555.2 98.9,555.2 C100.6,555.2 101.7,556.3 101.7,558.8 V564.6 M101.7,558.8 C101.7,556.3 102.8,555.2 104.6,555.2 C106.4,555.2 107.5,556.3 107.5,558.8 V564.6 M112.6,564.6 V555.2 M117.4,564.6 V555.2 M117.4,559.0 C117.4,556.4 118.7,555.2 120.7,555.2 C122.7,555.2 124.0,556.4 124.0,559.0 V564.6" fill="none" stroke="#363638" stroke-width="1.7"/>
<circle cx="112.7" cy="551.0" r="1.2" fill="#363638"/>
<path d="M100.5,589.6 C100.0,588.6 99.2,588.2 98.1,588.2 C96.8,588.2 95.9,589.0 95.9,590.2 C95.9,592.9 100.3,591.8 100.3,594.6 C100.3,595.7 99.3,596.3 98.0,596.3 C96.9,596.3 96.0,595.8 95.5,594.8 M104.5,592.2 H111.5 A3.5,4.05 0 1 0 110.6,595.0 M123.2,589.4 A3.6,4.05 0 1 0 123.2,595.1" fill="none" stroke="#363638" stroke-width="1.7"/>
<circle cx="691.6" cy="117.3" r="10.4" fill="none" stroke="#1a1a1a" stroke-width="1.8"/>
<g transform="translate(686.30,111.40) scale(1.0000,0.7546)" fill="none" stroke="#1a1a1a" stroke-width="2.120" stroke-linecap="butt" stroke-linejoin="miter" stroke-miterlimit="2"><path transform="translate(2.00,0)" d="M0.95,2.0 L3.95,0.95 V16.3"/></g>
<text x="717" y="125.6" font-family="Liberation Serif" font-size="26.8" fill="#151515">IntenseRain</text>
<circle cx="691.6" cy="159.1" r="10.4" fill="none" stroke="#1a1a1a" stroke-width="1.8"/>
<g transform="translate(686.93,152.10) scale(0.8431,0.7975)" fill="none" stroke="#1a1a1a" stroke-width="2.006" stroke-linecap="butt" stroke-linejoin="miter" stroke-miterlimit="2"><path transform="translate(0.80,0)" d="M1.20,3.68 A4.15,4.15 0 1 1 8.37,7.65 L0.95,15.35 H10.2"/></g>
<text x="717" y="166.9" font-family="Liberation Serif" font-size="26.8" fill="#151515">Massage</text>
<circle cx="691.6" cy="200.5" r="10.4" fill="none" stroke="#1a1a1a" stroke-width="1.8"/>
<g transform="translate(687.21,193.60) scale(0.7885,0.7975)" fill="none" stroke="#1a1a1a" stroke-width="2.006" stroke-linecap="butt" stroke-linejoin="miter" stroke-miterlimit="2"><path transform="translate(1.00,0)" d="M2.15,2.77 A3.15,3.15 0 1 1 4.73,7.24 A4.30,4.30 0 1 1 1.16,12.66"/></g>
<text x="717" y="208.2" font-family="Liberation Serif" font-size="26.8" fill="#151515">SoftRain</text>
<text x="787" y="623.8" font-family="Liberation Sans" font-weight="bold" font-size="30" fill="#2b3246" textLength="58.2" lengthAdjust="spacingAndGlyphs" transform="translate(0,623.8) scale(1,0.96) translate(0,-623.8)">reut</text>
<text x="842" y="607.4" font-family="Liberation Sans" font-weight="bold" font-size="5.6" fill="#2b3246">SK</text>
<text x="32" y="646.7" font-family="Liberation Serif" font-size="24.85" fill="#151515">Die Verbrauchswerte wurden praxisnah mit den dazugehörigen Armaturen (Thermostat/</text>
<text x="32" y="679.3" font-family="Liberation Serif" font-size="24.85" fill="#151515">Mischer/Unterputzventil) gemessen.</text>
</svg></body></html>
